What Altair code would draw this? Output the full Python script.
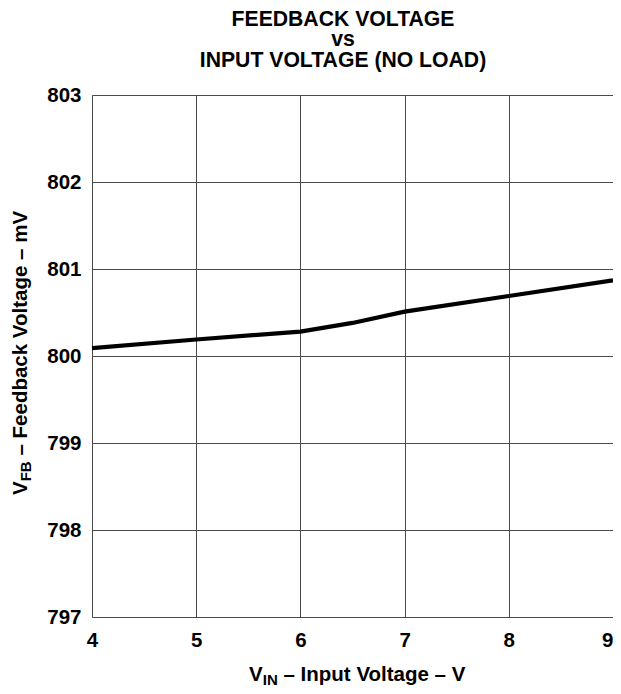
import altair as alt
import pandas as pd

# data
vin = [4, 5, 6, 6.5, 7, 8, 9]
vfb = [800.09, 800.19, 800.28, 800.38, 800.51, 800.69, 800.87]
x_ticks = [4, 5, 6, 7, 8, 9]
y_ticks = [797, 798, 799, 800, 801, 802, 803]
title_lines = ["FEEDBACK VOLTAGE", "vs", "INPUT VOLTAGE (NO LOAD)"]

FONT = "Liberation Sans"
W, H = 521, 522

df = pd.DataFrame({"vin": vin, "vfb": vfb})

line = alt.Chart(df).mark_line(color="black", strokeWidth=4.2).encode(
    x=alt.X("vin:Q", scale=alt.Scale(domain=[4, 9], nice=False, zero=False),
            axis=alt.Axis(values=x_ticks, title=None, ticks=False, domain=False,
                          labelFontSize=20.5, labelFont=FONT, labelFontWeight="bold",
                          labelColor="black", labelPadding=13, gridColor="#4a4a4a",
                          gridWidth=1, gridOpacity=1, labelFlush=False,
                          labelAlign=alt.condition("datum.value == 9",
                                                   alt.value("right"),
                                                   alt.value("center")))),
    y=alt.Y("vfb:Q", scale=alt.Scale(domain=[797, 803], nice=False, zero=False),
            axis=alt.Axis(values=y_ticks, title=None, ticks=False, domain=False,
                          labelFontSize=20.5, labelFont=FONT, labelFontWeight="bold",
                          labelColor="black", labelPadding=11, gridColor="#4a4a4a",
                          gridWidth=1, gridOpacity=1, labelFlush=False)),
)

dummy = pd.DataFrame({"a": [0]})


def txt(s, x, y, size, align="left", angle=0):
    kw = dict(text=s, font=FONT, fontWeight="bold", fontSize=size, color="black",
              align=align, baseline="alphabetic")
    if angle:
        kw["angle"] = angle
    return alt.Chart(dummy).mark_text(**kw).encode(x=alt.value(x), y=alt.value(y))


layers = [line]
# chart title
tcx = 251
layers.append(txt(title_lines[0], tcx, -69.5, 21.2, align="center"))
layers.append(txt(title_lines[1], tcx, -49, 21.2, align="center"))
layers.append(txt(title_lines[2], tcx, -28, 21.2, align="center"))

# x axis title with subscript
layers.append(txt("V", 157, 586, 20.5))
layers.append(txt("IN", 170.8, 589.5, 15))
layers.append(txt("– Input Voltage – V", 191.5, 586, 20.5))

# y axis title with subscript (rotated)
layers.append(txt("V", -65.5, 400, 20.5, angle=270))
layers.append(txt("FB", -61.5, 386.3, 15, angle=270))
layers.append(txt("– Feedback Voltage – mV", -65.5, 360.5, 20.5, angle=270))

chart = alt.layer(*layers).properties(
    width=W, height=H,
    autosize=alt.AutoSizeParams(type="none"),
    padding={"left": 84, "top": 87, "right": 0, "bottom": 69},
).configure_view(stroke="#222", strokeWidth=1.5).configure(background="white")

chart.save("out.html", embed_options={"renderer": "svg", "actions": False})
